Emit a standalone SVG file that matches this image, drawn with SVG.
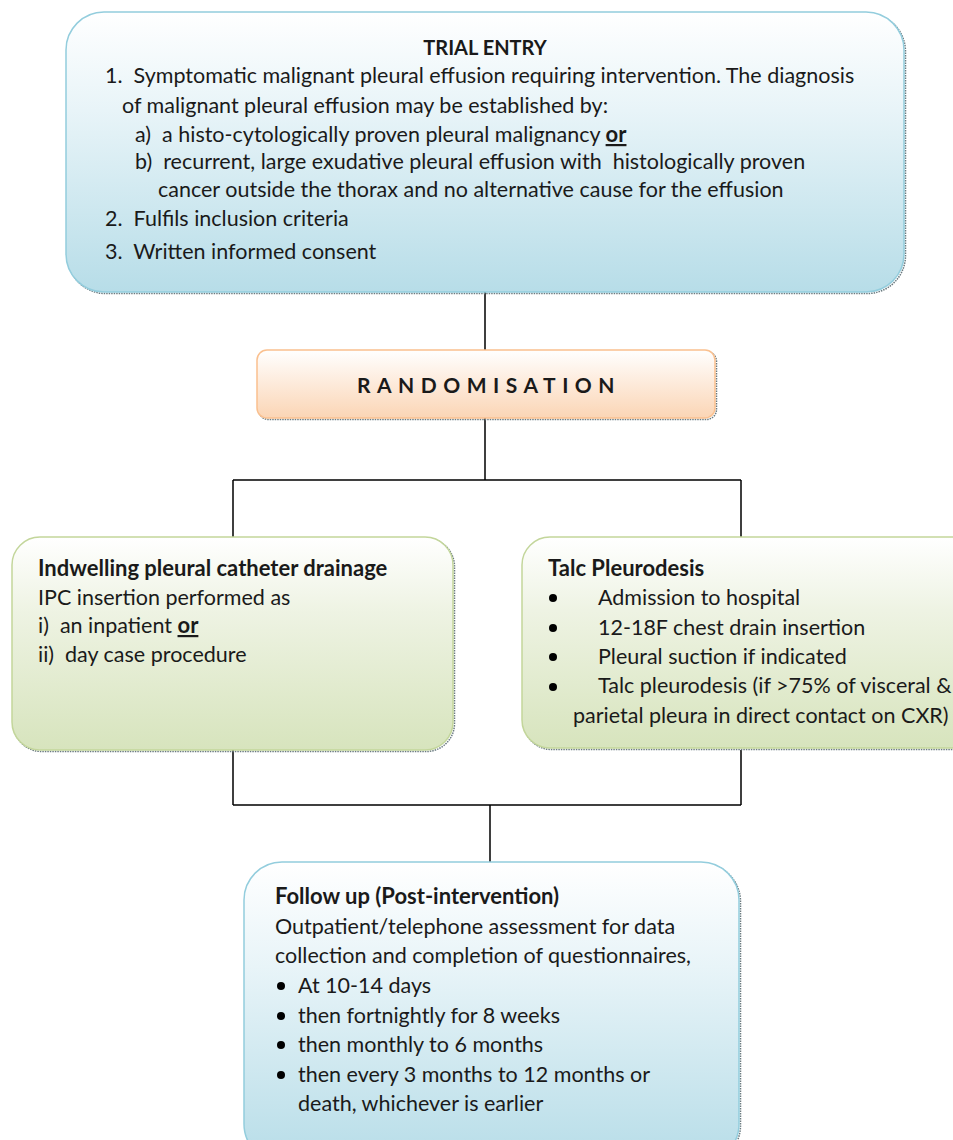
<svg xmlns="http://www.w3.org/2000/svg" width="953" height="1140" viewBox="0 0 953 1140">
<defs>
<linearGradient id="gBlue" x1="0" y1="0" x2="0" y2="1"><stop offset="0" stop-color="#ffffff"/><stop offset="0.35" stop-color="#e8f4f8"/><stop offset="1" stop-color="#b7dde8"/></linearGradient>
<linearGradient id="gPeach" x1="0" y1="0" x2="0" y2="1"><stop offset="0" stop-color="#ffffff"/><stop offset="1" stop-color="#fbd5b5"/></linearGradient>
<linearGradient id="gGreen" x1="0" y1="0" x2="0" y2="1"><stop offset="0" stop-color="#ffffff"/><stop offset="0.35" stop-color="#eef3e3"/><stop offset="1" stop-color="#d7e4bd"/></linearGradient>
</defs>
<style>
text{font-family:Lato,"Liberation Sans",sans-serif;font-size:21.5px;fill:#1a1a1a;white-space:pre}
.b{font-weight:bold;font-size:22px}
.u{text-decoration:underline}
.shadow{fill:none;stroke:#6b7b80;stroke-width:1.5;stroke-dasharray:1.5 1}
.conn{stroke:#000;stroke-width:1.5;fill:none}
</style>
<g id="connectors">
<path class="conn" d="M485 292V350M485 418V480M233 480H741M233 480V537M741 480V537M233 750V805M741 750V805M233 805H741M490 805V862"/>
</g>
<g id="trial-entry">
<rect x="67.5" y="13.5" width="838" height="280" rx="38" class="shadow"/>
<rect x="66" y="12" width="838" height="280" rx="38" fill="url(#gBlue)" stroke="#93cddd" stroke-width="1.5"/>
<text x="485" y="55" text-anchor="middle" class="b" style="font-size:20px">TRIAL ENTRY</text>
<text x="105" y="83">1.  Symptomatic malignant pleural effusion requiring intervention. The diagnosis</text>
<text x="122" y="113">of malignant pleural effusion may be established by:</text>
<text x="135" y="142">a)  a histo-cytologically proven pleural malignancy <tspan class="b u">or</tspan></text>
<text x="135" y="169">b)  recurrent, large exudative pleural effusion with  histologically proven</text>
<text x="158" y="197">cancer outside the thorax and no alternative cause for the effusion</text>
<text x="105" y="226">2.  Fulfils inclusion criteria</text>
<text x="105" y="259">3.  Written informed consent</text>
</g>
<g id="randomisation">
<rect x="258.5" y="351.5" width="458" height="68" rx="10" class="shadow"/>
<rect x="257" y="350" width="458" height="68" rx="10" fill="url(#gPeach)" stroke="#fac08f" stroke-width="1.5"/>
<text x="489" y="393" text-anchor="middle" class="b" style="letter-spacing:6.5px;font-size:21px">RANDOMISATION</text>
</g>
<g id="ipc">
<rect x="13.5" y="538.5" width="441" height="213" rx="28" class="shadow"/>
<rect x="12" y="537" width="441" height="213" rx="28" fill="url(#gGreen)" stroke="#c3d69b" stroke-width="1.5"/>
<text x="38" y="576" class="b">Indwelling pleural catheter drainage</text>
<text x="38" y="605">IPC insertion performed as</text>
<text x="38" y="633">i)  an inpatient <tspan class="b u">or</tspan></text>
<text x="38" y="662">ii)  day case procedure</text>
</g>
<g id="talc">
<rect x="523.5" y="538.5" width="460" height="211" rx="28" class="shadow"/>
<rect x="522" y="537" width="460" height="211" rx="28" fill="url(#gGreen)" stroke="#c3d69b" stroke-width="1.5"/>
<text x="548" y="576" class="b">Talc Pleurodesis</text>
<circle cx="553" cy="598" r="4" fill="#000"/>
<circle cx="553" cy="628" r="4" fill="#000"/>
<circle cx="553" cy="657" r="4" fill="#000"/>
<circle cx="553" cy="687" r="4" fill="#000"/>
<text x="598" y="605">Admission to hospital</text>
<text x="598" y="635">12-18F chest drain insertion</text>
<text x="598" y="664">Pleural suction if indicated</text>
<text x="598" y="693">Talc pleurodesis (if &gt;75% of visceral &amp;</text>
<text x="573" y="723">parietal pleura in direct contact on CXR)</text>
</g>
<g id="follow-up">
<rect x="245.5" y="863.5" width="495" height="300" rx="38" class="shadow"/>
<rect x="244" y="862" width="495" height="300" rx="38" fill="url(#gBlue)" stroke="#93cddd" stroke-width="1.5"/>
<text x="275" y="904" class="b">Follow up (Post-intervention)</text>
<text x="275" y="934">Outpatient/telephone assessment for data</text>
<text x="275" y="963">collection and completion of questionnaires,</text>
<circle cx="281" cy="986" r="4" fill="#000"/>
<circle cx="281" cy="1016" r="4" fill="#000"/>
<circle cx="281" cy="1045" r="4" fill="#000"/>
<circle cx="281" cy="1075" r="4" fill="#000"/>
<text x="298" y="993">At 10-14 days</text>
<text x="298" y="1023">then fortnightly for 8 weeks</text>
<text x="298" y="1052">then monthly to 6 months</text>
<text x="298" y="1082">then every 3 months to 12 months or</text>
<text x="298" y="1111">death, whichever is earlier</text>
</g>
</svg>
